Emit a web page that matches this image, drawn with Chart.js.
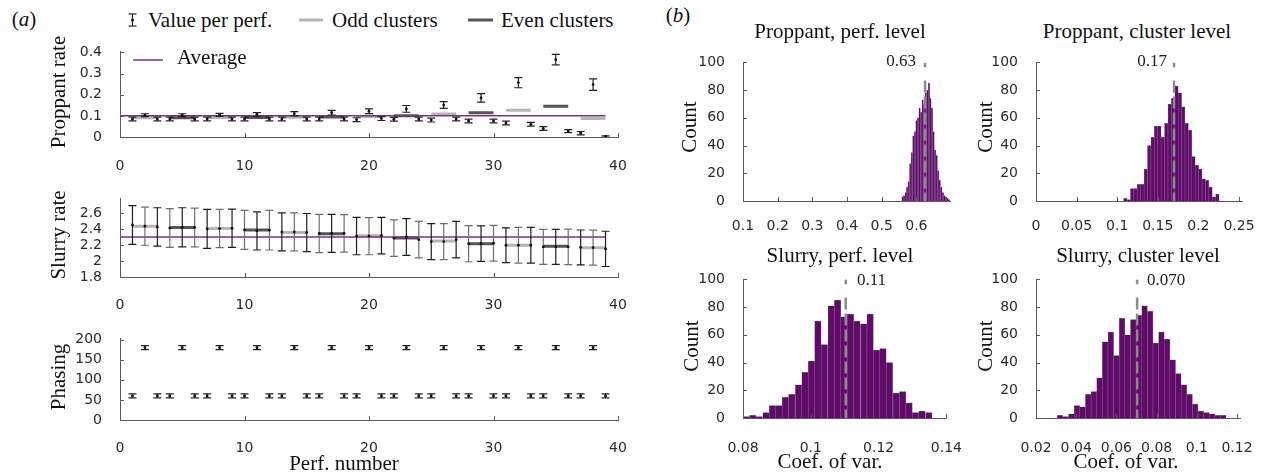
<!DOCTYPE html>
<html><head><meta charset="utf-8">
<script src="https://cdn.jsdelivr.net/npm/chart.js@4.4.1/dist/chart.umd.min.js"></script>
<style>
html,body{margin:0;padding:0;background:#fff}
body{width:1268px;height:472px;position:relative;overflow:hidden}
canvas{position:absolute}
.t{position:absolute;white-space:nowrap;font-family:"Liberation Serif",serif;font-size:21px;line-height:1;color:#111;transform:translate(-50%,-50%)}
.l{position:absolute;white-space:nowrap;font-family:"Liberation Serif",serif;font-size:21px;line-height:1;color:#111;transform:translate(0,-50%)}
.rt{position:absolute;white-space:nowrap;font-family:"Liberation Serif",serif;font-size:17px;line-height:1;color:#222;transform:translate(-100%,-50%)}
.rot{transform:translate(-50%,-50%) rotate(-90deg)}
.m{font-size:17px;color:#222}
svg{position:absolute;left:0;top:0;overflow:visible}
</style></head><body>
<div class="t" style="left:24px;top:19px">(<i>a</i>)</div>
<div class="t" style="left:678px;top:15px">(<i>b</i>)</div>

<div class="l" style="left:148px;top:20px">Value per perf.</div>
<div class="l" style="left:332px;top:20px">Odd clusters</div>
<div class="l" style="left:501px;top:20px">Even clusters</div>
<div class="l" style="left:177px;top:57px">Average</div>

<div class="t rot" style="left:58px;top:92px">Proppant rate</div>
<div class="t rot" style="left:58px;top:235px">Slurry rate</div>
<div class="t rot" style="left:58px;top:377px">Phasing</div>
<div class="t" style="left:344px;top:463px">Perf. number</div>

<div class="t" style="left:840px;top:31px">Proppant, perf. level</div>
<div class="t" style="left:1137px;top:31px">Proppant, cluster level</div>
<div class="t" style="left:840px;top:255px">Slurry, perf. level</div>
<div class="t" style="left:1138px;top:255px">Slurry, cluster level</div>
<div class="t rot" style="left:689px;top:127px">Count</div>
<div class="t rot" style="left:985px;top:127px">Count</div>
<div class="t rot" style="left:691px;top:346px">Count</div>
<div class="t rot" style="left:985px;top:346px">Count</div>
<div class="t" style="left:830px;top:461px">Coef. of var.</div>
<div class="t" style="left:1126px;top:461px">Coef. of var.</div>

<div class="rt" style="left:916px;top:60px">0.63</div>
<div class="rt" style="left:1167px;top:60px">0.17</div>
<div class="l m" style="left:857px;top:279px">0.11</div>
<div class="l m" style="left:1147px;top:279px">0.070</div>

<svg width="1268" height="472">
  <g stroke="#222" stroke-width="1.2">
    <line x1="132.5" y1="14" x2="132.5" y2="26"/>
    <line x1="128.5" y1="14" x2="136.5" y2="14"/>
    <line x1="128.5" y1="26" x2="136.5" y2="26"/>
  </g>
  <circle cx="132.5" cy="20" r="1.5" fill="#111"/>
  <line x1="299" y1="20" x2="323" y2="20" stroke="#b5b5b5" stroke-width="3"/>
  <line x1="468" y1="20" x2="493" y2="20" stroke="#555555" stroke-width="3"/>
  <line x1="133" y1="60" x2="163" y2="60" stroke="#862a8a" stroke-width="1.5"/>
</svg>

<script>
// ---------------- data ----------------
const perfNumber = [1,2,3,4,5,6,7,8,9,10,11,12,13,14,15,16,17,18,19,20,21,22,23,24,25,26,27,28,29,30,31,32,33,34,35,36,37,38,39];
const clusterFirst = [1,4,7,10,13,16,19,22,25,28,31,34,37];
const clusterLast  = [3,6,9,12,15,18,21,24,27,30,33,36,39];

const proppantPerf = [0.085,0.103,0.085,0.085,0.103,0.085,0.085,0.105,0.085,0.085,0.106,0.085,0.085,0.110,0.085,0.085,0.115,0.085,0.082,0.122,0.087,0.084,0.133,0.085,0.080,0.151,0.085,0.076,0.185,0.076,0.066,0.257,0.060,0.040,0.366,0.028,0.018,0.248,0.003];
const proppantErr  = [0.009,0.007,0.009,0.009,0.007,0.009,0.009,0.007,0.009,0.009,0.009,0.009,0.009,0.010,0.009,0.009,0.011,0.009,0.009,0.011,0.009,0.009,0.016,0.009,0.009,0.016,0.009,0.009,0.020,0.009,0.009,0.024,0.009,0.009,0.025,0.007,0.008,0.027,0.003];
const proppantCluster = [0.091,0.091,0.092,0.092,0.093,0.095,0.097,0.101,0.109,0.115,0.127,0.146,0.087];
const proppantAverage = 0.101;

const slurryPerf = [2.456,2.440,2.430,2.416,2.426,2.424,2.406,2.410,2.414,2.394,2.380,2.390,2.368,2.368,2.360,2.348,2.350,2.350,2.316,2.314,2.322,2.290,2.304,2.270,2.246,2.246,2.270,2.220,2.220,2.225,2.200,2.200,2.200,2.180,2.180,2.180,2.172,2.170,2.154];
const slurryErr  = [0.244,0.240,0.242,0.244,0.246,0.244,0.246,0.241,0.242,0.246,0.240,0.250,0.240,0.240,0.240,0.240,0.240,0.236,0.236,0.234,0.230,0.230,0.232,0.230,0.226,0.226,0.230,0.228,0.224,0.226,0.220,0.224,0.224,0.220,0.220,0.224,0.220,0.220,0.222];
const slurryCluster = [2.440,2.424,2.412,2.392,2.360,2.344,2.320,2.292,2.252,2.220,2.200,2.186,2.168];
const slurryAverage = 2.305;

const phasingPerf = [60,180,60,60,180,60,60,180,60,60,180,60,60,180,60,60,180,60,60,180,60,60,180,60,60,180,60,60,180,60,60,180,60,60,180,60,60,180,60];
const phasingErr  = [5,5,5,5,5,5,5,5,5,5,5,5,5,5,5,5,5,5,5,5,5,5,5,5,5,5,5,5,5,5,5,5,5,5,5,5,5,5,5];
const averageSpan = [0, 39];

// histograms (bin centres and counts)
const h1Bins = [0.5600,0.5645,0.5690,0.5734,0.5779,0.5824,0.5869,0.5914,0.5958,0.6003,0.6048,0.6093,0.6138,0.6182,0.6227,0.6272,0.6317,0.6362,0.6406,0.6451,0.6496,0.6541,0.6586,0.6630,0.6675,0.6720,0.6765,0.6810,0.6854,0.6899,0.6944];
const h1Counts = [3,4,6,10,14,27,35,47,50,58,60,67,64,73,70,78,80,85,74,67,50,37,33,22,15,10,6,4,3,2,1];
const h2Bins = [0.1100,0.1142,0.1184,0.1226,0.1268,0.1310,0.1352,0.1394,0.1436,0.1478,0.1520,0.1562,0.1604,0.1646,0.1688,0.1730,0.1772,0.1814,0.1856,0.1898,0.1940,0.1982,0.2024,0.2066,0.2108,0.2150,0.2192,0.2234];
const h2Counts = [2,1,9,9,12,12,23,40,46,54,54,46,56,70,74,83,78,68,56,51,32,26,23,16,15,10,3,5];
const h3Bins = [0.0810,0.0829,0.0848,0.0868,0.0887,0.0906,0.0925,0.0944,0.0964,0.0983,0.1002,0.1021,0.1040,0.1060,0.1079,0.1098,0.1117,0.1136,0.1156,0.1175,0.1194,0.1213,0.1232,0.1252,0.1271,0.1290,0.1309,0.1328,0.1348];
const h3Counts = [1,2,1,4,9,9,15,17,24,33,41,70,53,81,85,73,75,70,68,75,49,50,40,18,19,11,4,5,4];
const h4Bins = [0.0320,0.0348,0.0376,0.0404,0.0432,0.0460,0.0488,0.0516,0.0544,0.0572,0.0600,0.0628,0.0656,0.0684,0.0712,0.0740,0.0768,0.0796,0.0824,0.0852,0.0880,0.0908,0.0936,0.0964,0.0992,0.1020,0.1048,0.1076,0.1104,0.1132];
const h4Counts = [2,1,3,9,8,17,19,29,55,62,45,72,60,71,74,81,77,54,62,57,42,32,24,17,10,5,4,3,2,2];
const histMeans = [0.625, 0.170, 0.1103, 0.0703];

// ---------------- style ----------------
const AX = '#5a5a5a', TC = '#2b2b2b';
const PURPLE = '#862a8a', LIGHT = '#b5b5b5', DARK = '#555555', BARC = 'rgb(94,12,104)';
Chart.defaults.font.family = 'DejaVu Sans';
Chart.defaults.font.size = 14;
Chart.defaults.color = TC;

const inTicks = {
  id: 'inTicks',
  afterDraw(chart) {
    const {ctx, chartArea: a} = chart;
    const xs = chart.scales.x, ys = chart.scales.y, L = 4;
    ctx.save(); ctx.strokeStyle = AX; ctx.lineWidth = 1; ctx.beginPath();
    xs.ticks.forEach(t => { const p = Math.round(xs.getPixelForValue(t.value)) + 0.5; ctx.moveTo(p, a.bottom); ctx.lineTo(p, a.bottom - L); });
    ys.ticks.forEach(t => { const p = Math.round(ys.getPixelForValue(t.value)) + 0.5; ctx.moveTo(a.left, p); ctx.lineTo(a.left + L, p); });
    ctx.stroke(); ctx.restore();
  }
};
Chart.register(inTicks);

function scale(min, max, step, pad) {
  return {type: 'linear', min, max, offset: false,
    grid: {display: false}, border: {display: true, color: AX, width: 1},
    ticks: {stepSize: step, includeBounds: false, autoSkip: false, maxRotation: 0, padding: pad, color: TC,
      callback: v => String(parseFloat(Number(v).toFixed(6)))}};
}

function build(box, m, cfg) {
  const c = document.createElement('canvas');
  const w = box.r - box.l + m.l + m.r, h = box.b - box.t + m.t + m.b;
  c.width = w; c.height = h;
  c.style.left = (box.l - m.l) + 'px'; c.style.top = (box.t - m.t) + 'px';
  c.style.width = w + 'px'; c.style.height = h + 'px';
  document.body.insertBefore(c, document.body.firstChild);
  const o = cfg.options;
  o.responsive = false; o.animation = false; o.devicePixelRatio = 1; o.events = [];
  o.layout = {padding: {top: m.t, right: m.r, left: 0, bottom: 0}};
  o.plugins = {legend: {display: false}, tooltip: {enabled: false}};
  o.scales.x.afterFit = s => { s.height = m.b; };
  o.scales.y.afterFit = s => { s.width = m.l; };
  return new Chart(c, cfg);
}

function errSets(xs, ys, es, color) {
  const stem = [], caps = [], pts = [];
  xs.forEach((x, i) => {
    stem.push({x, y: ys[i] - es[i]}, {x, y: ys[i] + es[i]}, {x, y: null});
    caps.push({x, y: ys[i] - es[i]}, {x, y: ys[i] + es[i]});
    pts.push({x, y: ys[i]});
  });
  return [
    {type: 'line', data: stem, borderColor: color, borderWidth: 1.2, pointRadius: 0, spanGaps: false, order: 2},
    {type: 'scatter', data: caps, pointStyle: 'line', pointRadius: 4, borderColor: color, borderWidth: 1.2, order: 2},
    {type: 'scatter', data: pts, pointStyle: 'circle', pointRadius: 1.4, backgroundColor: '#111', borderWidth: 0, order: 1}
  ];
}

function clusterSets(vals) {
  const odd = [], even = [];
  vals.forEach((v, i) => {
    const seg = [{x: clusterFirst[i], y: v}, {x: clusterLast[i], y: v}, {x: clusterLast[i] + 0.5, y: null}];
    (i % 2 === 0 ? odd : even).push(...seg);
  });
  return [
    {type: 'line', data: odd, borderColor: LIGHT, borderWidth: 3, pointRadius: 0, spanGaps: false, order: 4},
    {type: 'line', data: even, borderColor: DARK, borderWidth: 3, pointRadius: 0, spanGaps: false, order: 4}
  ];
}

function avgSet(v) {
  return {type: 'line', data: averageSpan.map(x => ({x, y: v})), borderColor: PURPLE, borderWidth: 1.5, pointRadius: 0, order: 3};
}

const mA = {l: 70, r: 25, t: 14, b: 40};

// Proppant rate
build({l: 120, r: 618, t: 47, b: 137}, mA, {
  type: 'scatter',
  data: {datasets: [avgSet(proppantAverage), ...clusterSets(proppantCluster), ...errSets(perfNumber, proppantPerf, proppantErr, '#222')]},
  options: {scales: {x: scale(0, 40, 10, 13), y: scale(0, 0.405, 0.1, 10)}}
});

// Slurry rate
const oddIdx = perfNumber.map((p, i) => i).filter(i => perfNumber[i] % 2 === 1);
const evenIdx = perfNumber.map((p, i) => i).filter(i => perfNumber[i] % 2 === 0);
build({l: 120, r: 618, t: 194, b: 277}, mA, {
  type: 'scatter',
  data: {datasets: [avgSet(slurryAverage), ...clusterSets(slurryCluster),
    ...errSets(oddIdx.map(i => perfNumber[i]), oddIdx.map(i => slurryPerf[i]), oddIdx.map(i => slurryErr[i]), '#1e1e1e'),
    ...errSets(evenIdx.map(i => perfNumber[i]), evenIdx.map(i => slurryPerf[i]), evenIdx.map(i => slurryErr[i]), '#6e6e6e')]},
  options: {scales: {x: scale(0, 40, 10, 12), y: scale(1.8, 2.79, 0.2, 10)}}
});

// Phasing
build({l: 120, r: 618, t: 334, b: 420}, mA, {
  type: 'scatter',
  data: {datasets: errSets(perfNumber, phasingPerf, phasingErr, '#222')},
  options: {scales: {x: scale(0, 40, 10, 12), y: scale(0, 203, 50, 10)}}
});

// Histograms
function hist(box, bins, counts, xmin, xmax, step, mean, pad) {
  build(box, {l: 70, r: 25, t: 14, b: 40}, {
    type: 'bar',
    data: {datasets: [
      {type: 'line', data: [{x: mean, y: 100}, {x: mean, y: 96.5}], borderColor: '#8c8c8c', borderWidth: 2.5, pointRadius: 0, order: 0},
      {type: 'line', data: [{x: mean, y: 87}, {x: mean, y: 0}], borderColor: '#8c8c8c', borderWidth: 2.5, borderDash: [12, 4], pointRadius: 0, order: 0},
      {type: 'bar', data: bins.map((x, i) => ({x, y: counts[i]})), backgroundColor: BARC, borderColor: 'rgba(125,70,135,0.7)', borderWidth: 0.5, barPercentage: 1, categoryPercentage: 1, order: 1}
    ]},
    options: {scales: {x: scale(xmin, xmax, step, pad), y: scale(0, 100, 20, 10)}}
  });
}
hist({l: 743, r: 950, t: 58, b: 201}, h1Bins, h1Counts, 0.1, 0.697, 0.1, histMeans[0], 9);
hist({l: 1036, r: 1242, t: 58, b: 201}, h2Bins, h2Counts, 0, 0.2537, 0.05, histMeans[1], 9);
hist({l: 743, r: 951, t: 275, b: 418}, h3Bins, h3Counts, 0.08, 0.14, 0.02, histMeans[2], 14);
hist({l: 1036, r: 1242, t: 275, b: 418}, h4Bins, h4Counts, 0.02, 0.1215, 0.02, histMeans[3], 14);
</script>
</body></html>
